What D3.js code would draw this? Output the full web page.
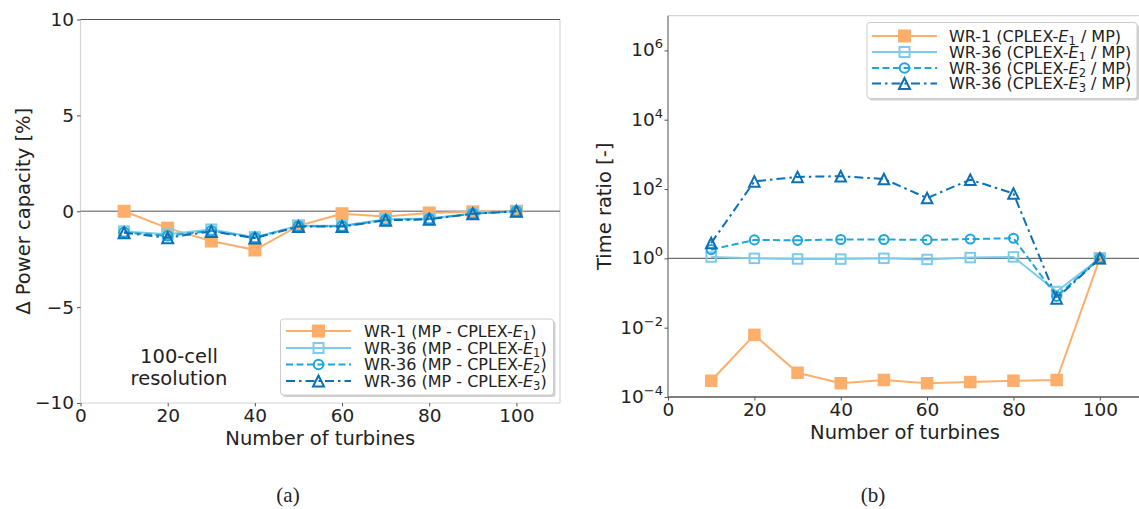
<!DOCTYPE html>
<html>
<head>
<meta charset="utf-8">
<script src="https://cdn.jsdelivr.net/npm/d3@7"></script>
<style>
  html, body { margin: 0; padding: 0; background: #fff; }
  svg { display: block; font-family: "DejaVu Sans", sans-serif; }
</style>
</head>
<body>
<svg id="chart" width="1139" height="509"></svg>
<script>
// Number of turbines
const turbines = [10, 20, 30, 40, 50, 60, 70, 80, 90, 100];

// (a) Difference in power capacity [%]
const dpWR1   = [0.0, -0.88, -1.55, -2.02, -0.76, -0.13, -0.27, -0.09, -0.03, 0.0];
const dpWR36E1 = [-1.05, -1.20, -0.95, -1.35, -0.76, -0.76, -0.42, -0.38, -0.12, 0.0];
const dpWR36E2 = [-1.10, -1.28, -1.02, -1.38, -0.78, -0.78, -0.45, -0.40, -0.13, 0.0];
const dpWR36E3 = [-1.12, -1.38, -1.05, -1.40, -0.80, -0.80, -0.47, -0.42, -0.13, 0.0];

// (b) Computation time ratio [-]
const trWR1    = [2.95e-4, 6.2e-3, 5.0e-4, 2.5e-4, 3.1e-4, 2.5e-4, 2.7e-4, 2.95e-4, 3.1e-4, 1.0];
const trWR36E1 = [1.09, 1.0, 0.96, 0.95, 1.0, 0.93, 1.05, 1.1, 0.11, 1.0];
const trWR36E2 = [1.78, 3.4, 3.3, 3.5, 3.5, 3.4, 3.6, 3.8, 0.08, 1.0];
const trWR36E3 = [2.76, 166, 224, 234, 195, 55, 186, 74, 0.07, 1.0];

const xTicks = [0, 20, 40, 60, 80, 100];
const yTicksA = [-10, -5, 0, 5, 10];
const yTicksB = [-4, -2, 0, 2, 4, 6];

const legendA = [
  { pre: "WR-1 (MP - CPLEX-", sub: "1", post: ")" },
  { pre: "WR-36 (MP - CPLEX-", sub: "1", post: ")" },
  { pre: "WR-36 (MP - CPLEX-", sub: "2", post: ")" },
  { pre: "WR-36 (MP - CPLEX-", sub: "3", post: ")" }
];
const legendB = [
  { pre: "WR-1 (CPLEX-", sub: "1", post: " / MP)" },
  { pre: "WR-36 (CPLEX-", sub: "1", post: " / MP)" },
  { pre: "WR-36 (CPLEX-", sub: "2", post: " / MP)" },
  { pre: "WR-36 (CPLEX-", sub: "3", post: " / MP)" }
];

const styles = [
  { color: "#fdae6b", dash: null,         marker: "squareFilled" },
  { color: "#7ccbea", dash: null,         marker: "square" },
  { color: "#1ea6dc", dash: "7,3.5",      marker: "circle" },
  { color: "#0b70b5", dash: "9,4,2.5,4",  marker: "triangle" }
];

const svg = d3.select("#chart");
const tickFont = 18.5, labelFont = 19.5, legendFont = 16;

function drawMarker(g, type, x, y, color, size) {
  const s = size;
  if (type === "squareFilled") {
    g.append("rect").attr("x", x - s / 2).attr("y", y - s / 2)
      .attr("width", s).attr("height", s).attr("fill", color);
  } else if (type === "square") {
    const t = s - 2;
    g.append("rect").attr("x", x - t / 2).attr("y", y - t / 2)
      .attr("width", t).attr("height", t).attr("fill", "none")
      .attr("stroke", color).attr("stroke-width", 2);
  } else if (type === "circle") {
    g.append("circle").attr("cx", x).attr("cy", y).attr("r", s / 2 - 1.2)
      .attr("fill", "none").attr("stroke", color).attr("stroke-width", 2);
  } else if (type === "triangle") {
    const h = s / 2 - 0.5;
    g.append("path")
      .attr("d", `M${x},${y - h}L${x - h},${y + h}L${x + h},${y + h}Z`)
      .attr("fill", "none").attr("stroke", color).attr("stroke-width", 2)
      .attr("stroke-linejoin", "miter");
  }
}

function drawSeries(g, xScale, yScale, values, st, mSize) {
  const pts = turbines.map((t, i) => [xScale(t), yScale(values[i])]);
  g.append("path")
    .attr("d", d3.line()(pts))
    .attr("fill", "none").attr("stroke", st.color).attr("stroke-width", 2)
    .attr("stroke-dasharray", st.dash)
    .attr("stroke-linejoin", "round");
  pts.forEach(p => drawMarker(g, st.marker, p[0], p[1], st.color, mSize));
}

function drawLegend(g, items, box, handle, textX, rowY) {
  g.append("rect").attr("x", box.x + 2).attr("y", box.y + 2)
    .attr("width", box.w).attr("height", box.h).attr("rx", 3)
    .attr("fill", "#d0d0d0");
  g.append("rect").attr("x", box.x).attr("y", box.y)
    .attr("width", box.w).attr("height", box.h).attr("rx", 3)
    .attr("fill", "#fff").attr("stroke", "#cccccc").attr("stroke-width", 1);
  items.forEach((it, i) => {
    const st = styles[i];
    const y = rowY[i];
    g.append("line").attr("x1", handle[0]).attr("x2", handle[1])
      .attr("y1", y).attr("y2", y)
      .attr("stroke", st.color).attr("stroke-width", 2)
      .attr("stroke-dasharray", st.dash);
    drawMarker(g, st.marker, (handle[0] + handle[1]) / 2, y, st.color, i === 0 ? 13 : 12);
    const t = g.append("text").attr("x", textX).attr("y", y + 5.5)
      .attr("font-size", legendFont).attr("fill", "#222");
    t.append("tspan").text(it.pre);
    t.append("tspan").attr("font-style", "italic").text("E");
    t.append("tspan").attr("font-size", 11.5).attr("dy", 3).text(it.sub);
    t.append("tspan").attr("dy", -3).text(it.post);
  });
}

// ---------- Panel (a): power capacity difference ----------
{
  const x = d3.scaleLinear().domain([0, 110]).range([80.5, 560]);
  const y = d3.scaleLinear().domain([-10, 10]).range([403, 19.5]);
  const g = svg.append("g");

  // spines
  g.append("line").attr("x1", x(0)).attr("x2", x(110)).attr("y1", y(-10)).attr("y2", y(-10)).attr("stroke", "#d4d4d4").attr("stroke-width", 1.2);
  g.append("line").attr("x1", x(0)).attr("x2", x(0)).attr("y1", y(-10)).attr("y2", y(10)).attr("stroke", "#d4d4d4").attr("stroke-width", 1.2);
  g.append("line").attr("x1", x(110)).attr("x2", x(110)).attr("y1", y(-10)).attr("y2", y(10)).attr("stroke", "#d4d4d4").attr("stroke-width", 1.2);
  g.append("line").attr("x1", x(0)).attr("x2", x(110)).attr("y1", y(10)).attr("y2", y(10)).attr("stroke", "#555").attr("stroke-width", 1.2);
  g.append("line").attr("x1", x(0)).attr("x2", x(110)).attr("y1", y(0)).attr("y2", y(0)).attr("stroke", "#8c8c8c").attr("stroke-width", 1.4);

  const ax = g.append("g").attr("transform", `translate(0,${y(-10)})`)
    .call(d3.axisBottom(x).tickValues(xTicks).tickSize(3.5).tickPadding(2).tickFormat(d3.format("d")));
  const ay = g.append("g").attr("transform", `translate(${x(0)},0)`)
    .call(d3.axisLeft(y).tickValues(yTicksA).tickSize(3.5).tickPadding(3).tickFormat(d => d < 0 ? "\u2212" + Math.abs(d) : d));
  [ax, ay].forEach(a => {
    a.select(".domain").remove();
    a.selectAll(".tick line").attr("stroke", "#555");
    a.selectAll(".tick text").attr("font-size", tickFont).attr("fill", "#222").attr("font-family", "DejaVu Sans");
  });

  styles.forEach((st, i) => {
    const vals = [dpWR1, dpWR36E1, dpWR36E2, dpWR36E3][i];
    drawSeries(g, x, y, vals, st, i === 0 ? 13 : 12);
  });

  g.append("text").attr("x", 179).attr("y", 363).attr("text-anchor", "middle")
    .attr("font-size", labelFont).attr("fill", "#222").text("100-cell");
  g.append("text").attr("x", 179).attr("y", 385).attr("text-anchor", "middle")
    .attr("font-size", labelFont).attr("fill", "#222").text("resolution");

  drawLegend(g, legendA, { x: 280.5, y: 319, w: 273, h: 76 }, [286, 351], 364, [331, 348, 364.5, 381]);

  g.append("text").attr("x", x(55)).attr("y", 445).attr("text-anchor", "middle")
    .attr("font-size", labelFont).attr("fill", "#222").text("Number of turbines");
  g.append("text").attr("transform", `translate(30,${(y(-10) + y(10)) / 2}) rotate(-90)`)
    .attr("text-anchor", "middle").attr("font-size", labelFont).attr("fill", "#222")
    .text("\u0394 Power capacity [%]");
  g.append("text").attr("x", 288).attr("y", 502).attr("text-anchor", "middle")
    .attr("font-family", "Liberation Serif, serif").attr("font-size", 21).attr("fill", "#222").text("(a)");
}

// ---------- Panel (b): time ratio ----------
{
  const x = d3.scaleLinear().domain([0, 110]).range([668, 1143]);
  const y = d3.scaleLog().domain([1e-4, 1e7]).range([397, 15.7]);
  const g = svg.append("g");

  g.append("line").attr("x1", x(0)).attr("x2", x(110)).attr("y1", y(1e7)).attr("y2", y(1e7)).attr("stroke", "#d4d4d4").attr("stroke-width", 1.2);
  g.append("line").attr("x1", x(0)).attr("x2", x(110)).attr("y1", y(1)).attr("y2", y(1)).attr("stroke", "#6e6e6e").attr("stroke-width", 1.4);
  g.append("line").attr("x1", x(0)).attr("x2", x(110)).attr("y1", y(1e-4)).attr("y2", y(1e-4)).attr("stroke", "#555").attr("stroke-width", 1.3);
  g.append("line").attr("x1", x(0)).attr("x2", x(0)).attr("y1", y(1e-4)).attr("y2", y(1e7)).attr("stroke", "#777").attr("stroke-width", 1.3);

  const ax = g.append("g").attr("transform", `translate(0,${y(1e-4)})`)
    .call(d3.axisBottom(x).tickValues(xTicks).tickSize(3.5).tickPadding(2).tickFormat(d3.format("d")));
  ax.select(".domain").remove();
  ax.selectAll(".tick line").attr("stroke", "#555");
  ax.selectAll(".tick text").attr("font-size", tickFont).attr("fill", "#222").attr("font-family", "DejaVu Sans");

  const ay = g.append("g").attr("transform", `translate(${x(0)},0)`)
    .call(d3.axisLeft(y).tickValues(yTicksB.map(e => Math.pow(10, e))).tickSize(3.5).tickPadding(3).tickFormat(() => ""));
  ay.select(".domain").remove();
  ay.selectAll(".tick line").attr("stroke", "#555");
  ay.selectAll(".tick text").remove();
  yTicksB.forEach(e => {
    const t = g.append("text").attr("x", x(0) - 5).attr("y", y(Math.pow(10, e)) + 6)
      .attr("text-anchor", "end").attr("font-size", tickFont).attr("fill", "#222");
    t.append("tspan").text("10");
    t.append("tspan").attr("font-size", 13).attr("dy", -8).text(e < 0 ? "\u2212" + Math.abs(e) : e);
  });

  styles.forEach((st, i) => {
    const vals = [trWR1, trWR36E1, trWR36E2, trWR36E3][i];
    drawSeries(g, x, y, vals, st, i === 0 ? 12.5 : 11.5);
  });

  drawLegend(g, legendB, { x: 867, y: 22.5, w: 270, h: 76 }, [872, 937], 949, [36, 52, 68, 83.5]);

  g.append("text").attr("x", 905).attr("y", 439).attr("text-anchor", "middle")
    .attr("font-size", labelFont).attr("fill", "#222").text("Number of turbines");
  g.append("text").attr("transform", `translate(611,${(y(1e-4) + y(1e7)) / 2}) rotate(-90)`)
    .attr("text-anchor", "middle").attr("font-size", labelFont).attr("fill", "#222")
    .text("Time ratio [-]");
  g.append("text").attr("x", 873).attr("y", 502).attr("text-anchor", "middle")
    .attr("font-family", "Liberation Serif, serif").attr("font-size", 21).attr("fill", "#222").text("(b)");
}
</script>
</body>
</html>
